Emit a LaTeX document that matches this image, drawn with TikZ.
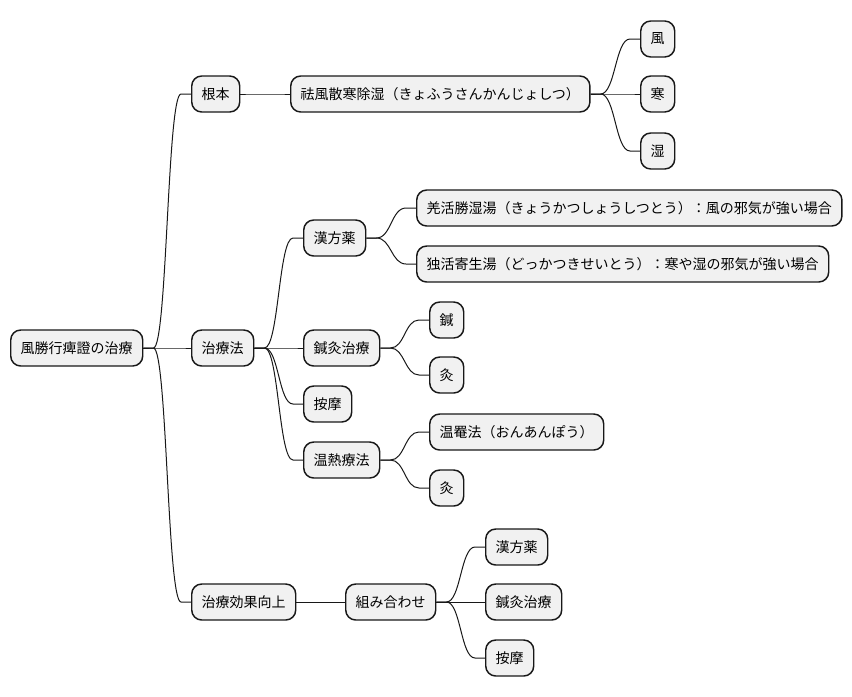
\documentclass[tikz,border=0pt]{standalone}
\usepackage{fontspec}
\newfontfamily\cjk{Noto Sans CJK JP}
\usetikzlibrary{calc}
\definecolor{nodefill}{HTML}{F1F1F1}
\definecolor{nodeline}{HTML}{181818}
\tikzset{
  mm/.style={draw=nodeline, line width=1.1pt, fill=nodefill, rounded corners=7.5pt,
    minimum height=27pt, inner xsep=7.5pt, inner ysep=0pt, anchor=west,
    font=\cjk\fontsize{10.5pt}{12pt}\selectfont, text=black},
  conn/.style={line width=0.75pt, draw=nodeline}
}
\newcommand{\mmedge}[2]{%
  \draw[conn] let \p1=($(#1.east)+(10,0)$), \p2=($(#2.west)-(10,0)$) in
    (#1.east) -- (\p1) .. controls ({(\x1+\x2)/2},\y1) and ({(\x1+\x2)/2},\y2) .. (\p2) -- (#2.west);}
\begin{document}
\begin{tikzpicture}[x=0.75pt,y=-0.75pt]
\useasboundingbox (0,0) rectangle (852,696);
\node[mm] (root) at (10,348) {風勝行痺證の治療};
\node[mm] (kon) at (191,94) {根本};
\node[mm] (kyo) at (290,94) {祛風散寒除湿（きょふうさんかんじょしつ）};
\node[mm] (fu) at (640,39) {風};
\node[mm] (kan) at (640,94) {寒};
\node[mm] (shitsu) at (640,151) {湿};
\node[mm] (chiryo) at (191,348) {治療法};
\node[mm] (kampo) at (303,238) {漢方薬};
\node[mm] (kyokatsu) at (416,208) {羌活勝湿湯（きょうかつしょうしつとう）：風の邪気が強い場合};
\node[mm] (dokkatsu) at (416,264) {独活寄生湯（どっかつきせいとう）：寒や湿の邪気が強い場合};
\node[mm] (shinkyu) at (303,348) {鍼灸治療};
\node[mm] (shin) at (429,320) {鍼};
\node[mm] (kyua) at (429,375) {灸};
\node[mm] (amma) at (303,404) {按摩};
\node[mm] (onnetsu) at (303,460) {温熱療法};
\node[mm] (onan) at (429,432) {温罨法（おんあんぽう）};
\node[mm] (kyub) at (429,488) {灸};
\node[mm] (koka) at (191,602) {治療効果向上};
\node[mm] (kumi) at (345,602) {組み合わせ};
\node[mm] (kampob) at (485,547) {漢方薬};
\node[mm] (shinkyub) at (485,602) {鍼灸治療};
\node[mm] (ammab) at (485,658) {按摩};
\mmedge{root}{kon}
\mmedge{root}{chiryo}
\mmedge{root}{koka}
\mmedge{kon}{kyo}
\mmedge{kyo}{fu}
\mmedge{kyo}{kan}
\mmedge{kyo}{shitsu}
\mmedge{chiryo}{kampo}
\mmedge{chiryo}{shinkyu}
\mmedge{chiryo}{amma}
\mmedge{chiryo}{onnetsu}
\mmedge{kampo}{kyokatsu}
\mmedge{kampo}{dokkatsu}
\mmedge{shinkyu}{shin}
\mmedge{shinkyu}{kyua}
\mmedge{onnetsu}{onan}
\mmedge{onnetsu}{kyub}
\mmedge{koka}{kumi}
\mmedge{kumi}{kampob}
\mmedge{kumi}{shinkyub}
\mmedge{kumi}{ammab}
\end{tikzpicture}
\end{document}
